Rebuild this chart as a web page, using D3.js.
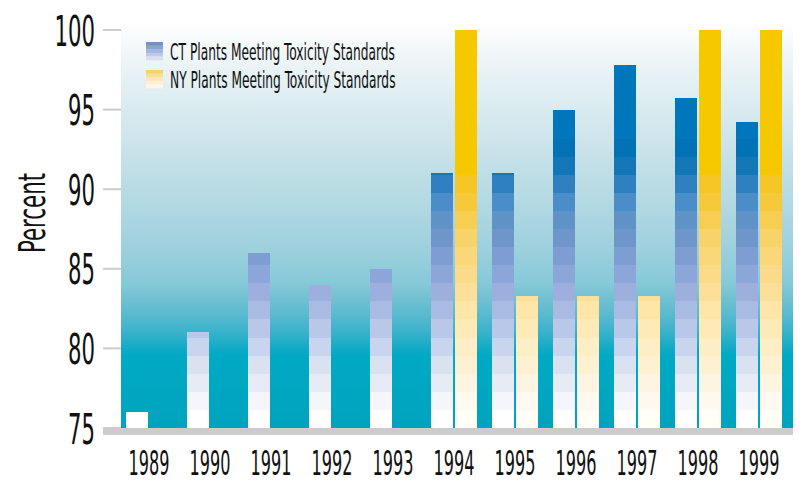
<!DOCTYPE html>
<html><head><meta charset="utf-8">
<script src="https://cdn.jsdelivr.net/npm/d3@7"></script>
<style>
html,body{margin:0;padding:0;background:#fff;}
svg{display:block;}
text{font-family:"Liberation Sans Narrow","DejaVu Sans Condensed","Liberation Sans",sans-serif;fill:#111;}
</style></head>
<body>
<svg id="chart" width="802" height="481"></svg>
<script>
// ---- data ----
const years = ["1989","1990","1991","1992","1993","1994","1995","1996","1997","1998","1999"];
const ctValues = [76, 81, 86, 84, 85, 91, 91, 95, 97.8, 95.7, 94.2];
const nyValues = [null, null, null, null, null, 100, 83.3, 83.3, 83.3, 100, 100];
const yTicks = [75, 80, 85, 90, 95, 100];
const seriesNames = ["CT Plants Meeting Toxicity Standards", "NY Plants Meeting Toxicity Standards"];
const yTitle = "Percent";

// ---- style ----
const ctPalette = ["#FFFFFF","#F4F6FB","#E7EBF6","#DAE1F1","#C9D5EE","#B9C7E8","#AABBE3","#9DB0DD",
  "#8DA6D9","#7E9DD2","#6E96CB","#5F93C8","#4A8DC9","#2E80C0","#1376B7","#0072B5","#0077BD","#0077BA",
  "#0077BA","#0077BA","#0077BA","#0077BA"];
const nyPalette = ["#FFFFF6","#FFF9EF","#FDF5E2","#FEF1D2","#FEEEC5","#FEEAB6","#FDE6A8","#FCE09A",
  "#FBDB8A","#FAD87A","#F8D36A","#F7CE52","#F6C93A","#F5C625","#F5C800","#F5C800","#F5C800","#F5C800",
  "#F5C800","#F5C800","#F5C800","#F5C800"];
const ctSwatch = ["#7590C2","#8AA3D3","#A3B6DF","#BEC9E8","#DCDDEF"];
const nySwatch = ["#F2D46C","#FADF92","#FDE8B6","#FEF0D2","#FEF6E8"];

const svg = d3.select("#chart");
const plot = {left: 121, right: 793, top: 0, bottom: 428};

const y = d3.scaleLinear().domain([75, 100]).range([428, 30]);
const x = d3.scaleBand().domain(years).range([126, 782]).paddingInner(15/61).paddingOuter(0);
const xs = d3.scaleBand().domain(["CT","NY"]).range([0, x.bandwidth()]).paddingInner(2/24);

// background gradient
const defs = svg.append("defs");
const g = defs.append("linearGradient").attr("id","bg").attr("gradientUnits","userSpaceOnUse")
  .attr("x1",0).attr("x2",0).attr("y1",0).attr("y2",plot.bottom);
[[0,"#FFFFFF"],[22,"#FFFFFF"],[67,"#EAF3F6"],[100,"#DDEDF1"],[133,"#D0E6EC"],[167,"#C2DFE7"],
 [200,"#B4DAE3"],[250,"#9CD0DD"],[283,"#86C9D8"],[300,"#70C0D2"],[317,"#55B9CF"],[333,"#38B2CB"],
 [348,"#12ABC6"],[356,"#00AAC4"],[428,"#00A3BE"]].forEach(([o,c]) => {
  g.append("stop").attr("offset", o/plot.bottom).attr("stop-color", c);
});
svg.append("rect").attr("x",plot.left).attr("y",plot.top).attr("width",plot.right-plot.left)
  .attr("height",plot.bottom-plot.top).attr("fill","url(#bg)");

// bars as stacked bands
const nBands = 22;
const bandStep = (y.domain()[1]-y.domain()[0]) / nBands;
function drawBar(parent, x0, w, v, palette){
  if (v == null) return;
  const bands = d3.range(nBands).map(k => {
    const lo = y.domain()[0] + k*bandStep;
    const hi = Math.min(v, lo + bandStep);
    return {lo, hi, k};
  }).filter(b => b.hi > b.lo);
  parent.selectAll(null).data(bands).enter().append("rect")
    .attr("x", x0).attr("width", w)
    .attr("y", b => y(b.hi)).attr("height", b => y(b.lo) - y(b.hi))
    .attr("fill", b => palette[b.k]).attr("shape-rendering","crispEdges");
}
const barsG = svg.append("g");
years.forEach((yr, i) => {
  drawBar(barsG, x(yr) + xs("CT"), xs.bandwidth(), ctValues[i], ctPalette);
  drawBar(barsG, x(yr) + xs("NY"), xs.bandwidth(), nyValues[i], nyPalette);
});

// axis bar
svg.append("rect").attr("x",103).attr("y",y(75)).attr("width",plot.right-103).attr("height",7).attr("fill","#CCCCCC");

// helper for condensed text
function condensed(fontSize, targetWidth, sample){
  const t = svg.append("text").attr("font-size", fontSize).text(sample);
  const wNat = t.node().getComputedTextLength(); t.remove();
  return targetWidth / wNat;
}

// y ticks
const yFont = 43;
const sY = condensed(yFont, 27, "95");
const yAx = svg.append("g");
yAx.selectAll("line").data(yTicks).enter().append("line")
  .attr("x1",103).attr("x2",plot.left).attr("y1",d=>y(d)).attr("y2",d=>y(d))
  .attr("stroke","#CCCCCC").attr("stroke-width",2);
yAx.selectAll("text").data(yTicks).enter().append("text")
  .attr("font-size", yFont).attr("text-anchor","end")
  .attr("transform", d => `translate(95,${y(d)+15.5}) scale(${sY},1)`)
  .text(d => d);

// x labels
const xFont = 33;
const sX = condensed(xFont, 41, "1994");
svg.append("g").selectAll("text").data(years).enter().append("text")
  .attr("font-size", xFont).attr("text-anchor","middle")
  .attr("transform", d => `translate(${x(d)+x.bandwidth()/2},475) scale(${sX},1)`)
  .text(d => d);

// y title
const tFont = 37;
const sT = condensed(tFont, 80, yTitle);
svg.append("text").attr("font-size", tFont).attr("text-anchor","middle")
  .attr("transform", `translate(45,213) rotate(-90) scale(${sT},1)`).text(yTitle);

// legend
const lFont = 23.5;
const sL = condensed(lFont, 225, seriesNames[0]);
const legend = svg.append("g");
[[ctSwatch, 42], [nySwatch, 70]].forEach(([sw, top], i) => {
  const sh = 18 / sw.length;
  legend.selectAll(null).data(sw).enter().append("rect")
    .attr("x",146).attr("width",17).attr("y",(d,j)=>top + j*sh).attr("height",sh+0.3)
    .attr("fill", d=>d);
  legend.append("text").attr("font-size", lFont)
    .attr("transform", `translate(170,${top+18}) scale(${sL},1)`).text(seriesNames[i]);
});
</script>
</body></html>
